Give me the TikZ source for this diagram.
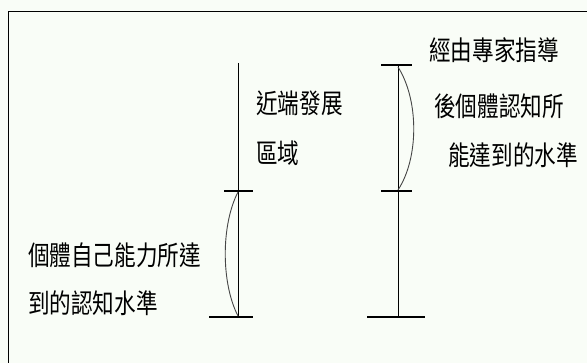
\documentclass[tikz,border=0pt]{standalone}
\usepackage{fontspec}
\newfontfamily\cjk[FakeStretch=0.8]{Noto Sans CJK TC}
\definecolor{bgc}{RGB}{249,253,247}
\definecolor{curvec}{RGB}{70,70,70}
\tikzset{
  lbl/.style={anchor=west, inner sep=0pt, font=\cjk\fontsize{27}{27}\selectfont},
  axisline/.style={line width=1pt, black},
  tick/.style={line width=2pt, black},
  bulge/.style={line width=0.9pt, curvec},
  frame/.style={line width=1pt, black}
}
\begin{document}
\begin{tikzpicture}[x=1pt, y=-1pt]
\useasboundingbox (0,0) rectangle (587,363);
\fill[bgc] (0,0) rectangle (587,363);
\draw[frame] (8,12) rectangle (620,400);
% left scale
\coordinate (Ltop) at (238,63);
\coordinate (Lmid) at (238,191.5);
\coordinate (Lbot) at (238,317.5);
\coordinate (LmidA) at (224,191.5);
\coordinate (LmidB) at (253,191.5);
\coordinate (LbotA) at (209,317.5);
\coordinate (LbotB) at (253,317.5);
\draw[axisline] (Ltop) -- (Lbot);
\draw[tick] (LmidA) -- (LmidB);
\draw[tick] (LbotA) -- (LbotB);
\draw[bulge] (238,192) .. controls (221,225) and (221,283) .. (238,316);
% right scale
\coordinate (Rtop) at (398,65.5);
\coordinate (Rmid) at (398,191.5);
\coordinate (Rbot) at (398,317.5);
\coordinate (RtopA) at (381,65.5);
\coordinate (RtopB) at (412,65.5);
\coordinate (RmidA) at (381,191.5);
\coordinate (RmidB) at (412,191.5);
\coordinate (RbotA) at (367,317.5);
\coordinate (RbotB) at (425,317.5);
\draw[axisline] (Rtop) -- (Rbot);
\draw[tick] (RtopA) -- (RtopB);
\draw[tick] (RmidA) -- (RmidB);
\draw[tick] (RbotA) -- (RbotB);
\draw[bulge] (398,67) .. controls (419,100) and (419,158) .. (398,190);
% labels
\node[lbl] (t1) at (256,103) {近端發展};
\node[lbl] (t2) at (256,153) {區域};
\node[lbl] (t3) at (429,50) {經由專家指導};
\node[lbl] (t4) at (434,106) {後個體認知所};
\node[lbl] (t5) at (448,155) {能達到的水準};
\node[lbl] (t6) at (28,255) {個體自己能力所達};
\node[lbl] (t7) at (28,303) {到的認知水準};
\end{tikzpicture}
\end{document}
